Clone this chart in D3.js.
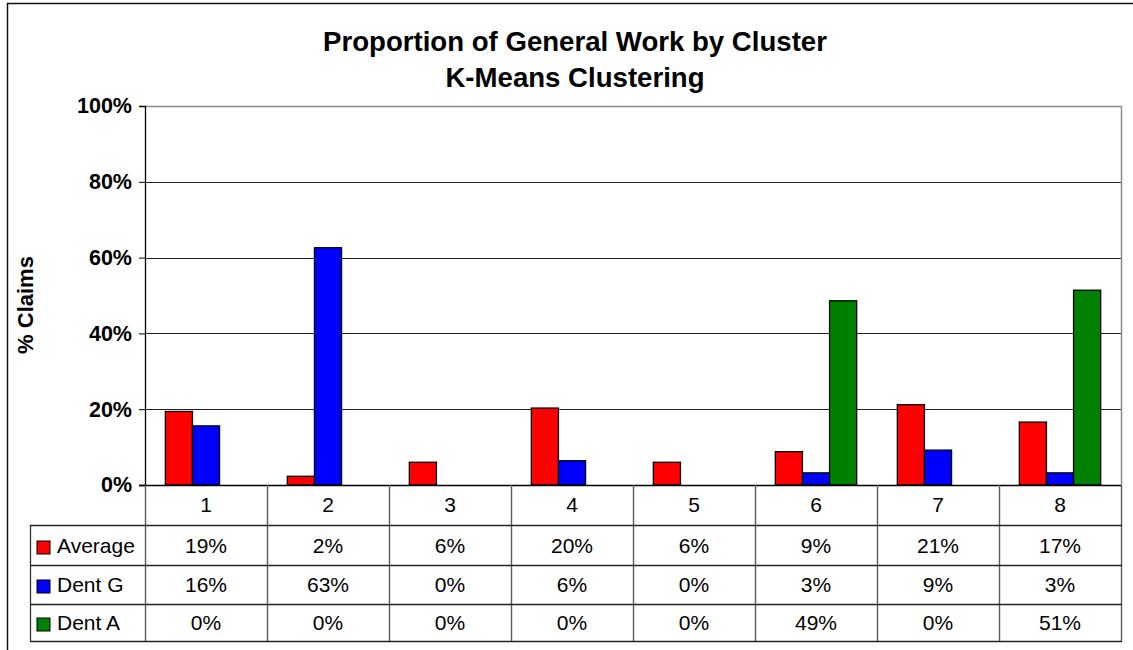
<!DOCTYPE html>
<html>
<head>
<meta charset="utf-8">
<script src="https://cdnjs.cloudflare.com/ajax/libs/d3/7.8.5/d3.min.js"></script>
<style>
  body { margin: 0; background: #fff; }
  svg { display: block; }
  text { font-family: "Liberation Sans", Arial, sans-serif; fill: #000; }
</style>
</head>
<body>
<div id="main"></div>
<script>

var width = 1133,
    height = 650;

// chart data
var clusters = ["1", "2", "3", "4", "5", "6", "7", "8"];
var seriesNames = ["Average", "Dent G", "Dent A"];
var average = [19.4, 2.3, 6.0, 20.3, 6.0, 8.8, 21.2, 16.6];
var dentG = [15.6, 62.6, 0, 6.4, 0, 3.2, 9.2, 3.2];
var dentA = [0, 0, 0, 0, 0, 48.6, 0, 51.4];
var yTicks = [0, 20, 40, 60, 80, 100];
var colors = ["#ff0000", "#0000ff", "#008000"];

var seriesValues = [average, dentG, dentA];

var plot = { left: 145, right: 1121, top: 106, bottom: 485 };
var tableLeft = 30,
    rowLines = [525, 565, 604, 641];

var svg = d3.select("div#main").append("svg")
    .attr("width", width)
    .attr("height", height);

// outer chart border (runs off the right and bottom)
svg.append("path")
    .attr("d", `M7.5,${height + 5}V3.5H${width + 5}`)
    .attr("fill", "none")
    .attr("stroke", "#111")
    .attr("stroke-width", 1.5);

var x0 = d3.scaleBand()
    .domain(clusters)
    .range([plot.left, plot.right]);

var x1 = d3.scaleBand()
    .domain(seriesNames)
    .range([0, x0.bandwidth()])
    .paddingOuter(0.75);

var y = d3.scaleLinear()
    .domain([0, 100])
    .range([plot.bottom, plot.top]);

// gridlines
svg.append("g")
    .selectAll("line")
    .data(yTicks.filter(function(d) { return d > 0 && d < 100; }))
    .enter().append("line")
    .attr("x1", plot.left)
    .attr("x2", plot.right)
    .attr("y1", function(d) { return Math.round(y(d)) + 0.5; })
    .attr("y2", function(d) { return Math.round(y(d)) + 0.5; })
    .attr("stroke", "#222");

// plot area frame top & right (gray)
svg.append("path")
    .attr("d", `M${plot.left},${plot.top + 0.5}H${plot.right + 0.5}V${plot.bottom}`)
    .attr("fill", "none")
    .attr("stroke", "#8c8c8c")
    .attr("stroke-width", 1.5);

// bars
var bars = [];
seriesValues.forEach(function(vals, si) {
    vals.forEach(function(v, ci) {
        bars.push({ series: seriesNames[si], cat: clusters[ci], value: v, color: colors[si] });
    });
});

svg.append("g")
    .selectAll("rect")
    .data(bars.filter(function(d) { return d.value > 0; }))
    .enter().append("rect")
    .attr("x", function(d) { return x0(d.cat) + x1(d.series); })
    .attr("y", function(d) { return y(d.value); })
    .attr("width", x1.bandwidth())
    .attr("height", function(d) { return y(0) - y(d.value); })
    .attr("fill", function(d) { return d.color; })
    .attr("stroke", "#000")
    .attr("stroke-width", 1.3);

// y axis
var yAxis = d3.axisLeft(y)
    .tickValues(yTicks)
    .tickSize(6)
    .tickPadding(7)
    .tickFormat(function(d) { return d + "%"; });

var gy = svg.append("g")
    .attr("transform", `translate(${plot.left},0)`)
    .call(yAxis);
gy.select(".domain").attr("stroke", "#000").attr("stroke-width", 1.3);
gy.selectAll(".tick line").attr("stroke", "#000");
gy.selectAll(".tick text")
    .attr("font-family", "Liberation Sans, Arial, sans-serif")
    .attr("font-size", 21.5)
    .attr("font-weight", "bold")
    .attr("fill", "#000");

// zero line
svg.append("line")
    .attr("x1", plot.left - 6)
    .attr("x2", plot.right)
    .attr("y1", y(0) + 0.5)
    .attr("y2", y(0) + 0.5)
    .attr("stroke", "#000")
    .attr("stroke-width", 1.3);

// data table: category column lines
var bounds = clusters.map(function(c) { return x0(c); }).concat([plot.right]);

svg.append("g")
    .selectAll("line")
    .data(bounds)
    .enter().append("line")
    .attr("x1", function(d) { return d + 0.5; })
    .attr("x2", function(d) { return d + 0.5; })
    .attr("y1", plot.bottom)
    .attr("y2", rowLines[3])
    .attr("stroke", "#5a5a5a")
    .attr("stroke-width", 1.4);

svg.append("line")
    .attr("x1", tableLeft + 0.5)
    .attr("x2", tableLeft + 0.5)
    .attr("y1", rowLines[0])
    .attr("y2", rowLines[3])
    .attr("stroke", "#333")
    .attr("stroke-width", 1.3);

svg.append("g")
    .selectAll("line")
    .data(rowLines)
    .enter().append("line")
    .attr("x1", tableLeft)
    .attr("x2", plot.right + 1)
    .attr("y1", function(d) { return d + 0.5; })
    .attr("y2", function(d) { return d + 0.5; })
    .attr("stroke", "#222")
    .attr("stroke-width", 1.3);

// category labels
svg.append("g")
    .selectAll("text")
    .data(clusters)
    .enter().append("text")
    .attr("x", function(d) { return x0(d) + x0.bandwidth() / 2; })
    .attr("y", 512)
    .attr("text-anchor", "middle")
    .attr("font-size", 21)
    .text(function(d) { return d; });

// table rows
var fmt = d3.format(".0%");
var rowBase = [553, 592, 630];

var rows = svg.append("g")
    .selectAll("g")
    .data(seriesNames)
    .enter().append("g");

rows.append("rect")
    .attr("x", 37)
    .attr("y", function(d, i) { return rowBase[i] - 12; })
    .attr("width", 13)
    .attr("height", 13)
    .attr("fill", function(d, i) { return colors[i]; })
    .attr("stroke", "#000")
    .attr("stroke-width", 1);

rows.append("text")
    .attr("x", 57)
    .attr("y", function(d, i) { return rowBase[i]; })
    .attr("font-size", 21)
    .text(function(d) { return d; });

rows.each(function(name, si) {
    d3.select(this).selectAll("text.val")
        .data(seriesValues[si])
        .enter().append("text")
        .attr("class", "val")
        .attr("x", function(d, ci) { return x0(clusters[ci]) + x0.bandwidth() / 2; })
        .attr("y", rowBase[si])
        .attr("text-anchor", "middle")
        .attr("font-size", 21)
        .text(function(d) { return fmt(d / 100); });
});

// titles
svg.append("text")
    .attr("x", 575)
    .attr("y", 51)
    .attr("text-anchor", "middle")
    .attr("font-size", 27.6)
    .attr("font-weight", "bold")
    .text("Proportion of General Work by Cluster");

svg.append("text")
    .attr("x", 575)
    .attr("y", 87)
    .attr("text-anchor", "middle")
    .attr("font-size", 27.6)
    .attr("font-weight", "bold")
    .text("K-Means Clustering");

svg.append("text")
    .attr("transform", "translate(33,305) rotate(-90)")
    .attr("text-anchor", "middle")
    .attr("font-size", 22)
    .attr("font-weight", "bold")
    .text("% Claims");

</script>
</body>
</html>
